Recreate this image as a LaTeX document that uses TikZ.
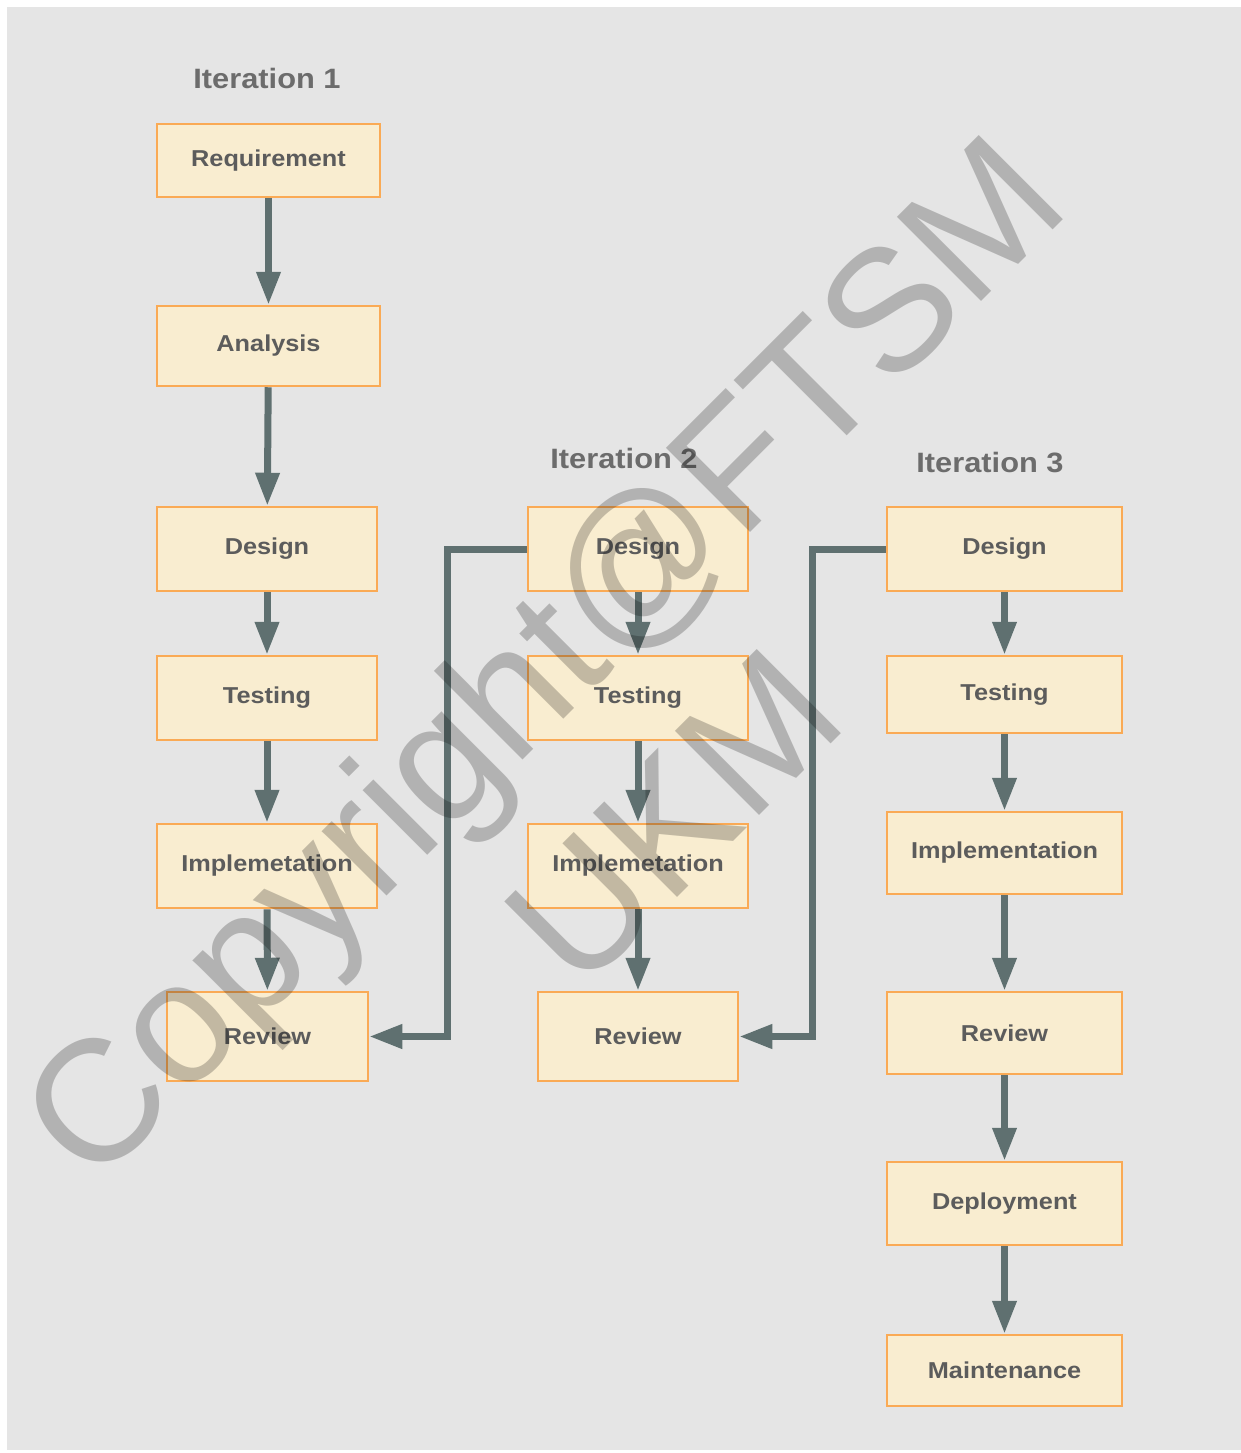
\documentclass[tikz,border=0pt]{standalone}
\usepackage{fontspec}
\setmainfont{Liberation Sans}
\newfontfamily\widefont{Liberation Sans}[FakeStretch=1.1]
\usetikzlibrary{arrows.meta}
\definecolor{bggray}{RGB}{229,229,229}
\definecolor{boxfill}{RGB}{249,237,208}
\definecolor{boxline}{RGB}{250,170,85}
\definecolor{flowcol}{RGB}{95,112,112}
\definecolor{labelcol}{RGB}{92,92,92}
\tikzset{
  stage/.style={draw=boxline, fill=boxfill, line width=2.5pt, text=labelcol,
    font=\widefont\fontsize{23}{27}\selectfont\bfseries, minimum width=220pt, minimum height=84pt, inner sep=0pt},
  heading/.style={text=labelcol!90, font=\widefont\fontsize{28}{32}\selectfont\bfseries},
  flow/.style={draw=flowcol, line width=7pt, -{Triangle[width=23pt,length=33pt]}},
  stamp/.style={text=black, opacity=0.22, font=\fontsize{173}{185}\selectfont, rotate=45}
}
\begin{document}
\begin{tikzpicture}[x=1pt,y=-1pt]
      \useasboundingbox (0,0) rectangle (1241,1453);
      \fill[white] (0,0) rectangle (1241,1453);
      \fill[bggray] (7,7) rectangle (1241,1450);
      % iteration 1
      \node[heading] (it1) at (267,78) {Iteration 1};
      \node[stage, minimum width=223pt, minimum height=73pt] (req) at (268.5,160.5) {Requirement};
      \node[stage, minimum width=223pt, minimum height=80pt] (ana) at (268.5,346) {Analysis};
      \node[stage] (des1) at (267,549) {Design};
      \node[stage] (tes1) at (267,698) {Testing};
      \node[stage] (imp1) at (267,866) {Implemetation};
      \node[stage, minimum width=201pt, minimum height=89pt] (rev1) at (267.5,1036.5) {Review};
      % iteration 2
      \node[heading] (it2) at (624,458) {Iteration 2};
      \node[stage] (des2) at (638,549) {Design};
      \node[stage] (tes2) at (638,698) {Testing};
      \node[stage] (imp2) at (638,866) {Implemetation};
      \node[stage, minimum width=200pt, minimum height=89pt] (rev2) at (638,1036.5) {Review};
      % iteration 3
      \node[heading] (it3) at (990,463) {Iteration 3};
      \node[stage, minimum width=235pt] (des3) at (1004.5,549) {Design};
      \node[stage, minimum width=235pt, minimum height=77pt] (tes3) at (1004.5,694.5) {Testing};
      \node[stage, minimum width=235pt, minimum height=82pt] (imp3) at (1004.5,853) {Implementation};
      \node[stage, minimum width=235pt, minimum height=82pt] (rev3) at (1004.5,1033) {Review};
      \node[stage, minimum width=235pt, minimum height=83pt] (dep3) at (1004.5,1203.5) {Deployment};
      \node[stage, minimum width=235pt, minimum height=71pt] (mai3) at (1004.5,1370.5) {Maintenance};
      % arrows
      \draw[flow] (req) -- (ana);
      \draw[flow] (ana) -- (des1);
      \draw[flow] (des1) -- (tes1);
      \draw[flow] (tes1) -- (imp1);
      \draw[flow] (imp1) -- (rev1);
      \draw[flow] (des2) -- (tes2);
      \draw[flow] (tes2) -- (imp2);
      \draw[flow] (imp2) -- (rev2);
      \draw[flow] (des3) -- (tes3);
      \draw[flow] (tes3) -- (imp3);
      \draw[flow] (imp3) -- (rev3);
      \draw[flow] (rev3) -- (dep3);
      \draw[flow] (dep3) -- (mai3);
      \draw[flow] (des2.west) -- (447,549) |- (rev1.east);
      \draw[flow] (des3.west) -- (812,549) |- (rev2.east);
      % watermark
      \node[stamp] (wm1) at (552,668) {Copyright@FTSM};
      \node[stamp] (wm2) at (674,818) {UKM};
\end{tikzpicture}
\end{document}
